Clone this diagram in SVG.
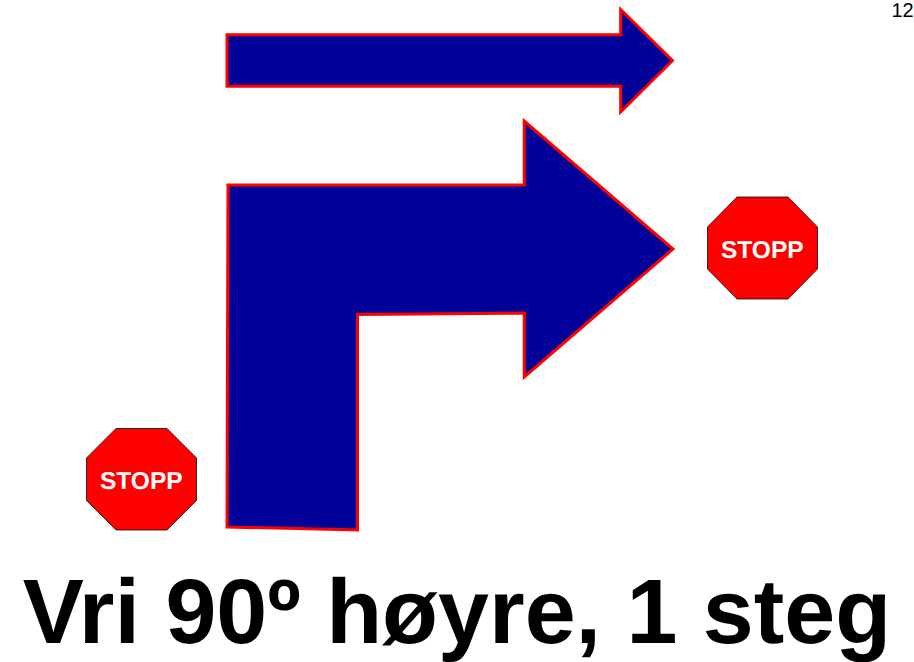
<svg xmlns="http://www.w3.org/2000/svg" width="914" height="662" viewBox="0 0 914 662">
<style>
text{font-family:"Liberation Sans",Arial,sans-serif;text-rendering:geometricPrecision}
.arrow{fill:#000099;stroke:#ff0000;stroke-width:3;stroke-linejoin:miter}
.oct{fill:#ff0000;stroke:#000000;stroke-width:.75}
.stopp{fill:#ffffff;font-weight:bold;font-size:24.500px;text-anchor:middle}
</style>
<rect width="914" height="662" fill="#ffffff"/>
<g id="page-number"><text x="891.500" y="16.500" font-size="20">12</text></g>
<g id="straight-arrow"><polygon class="arrow" points="227,34.700 620.700,34.700 620.700,9.500 672.500,60.500 620.700,112 620.700,86.300 227,86.300"/></g>
<g id="bent-arrow"><polygon class="arrow" points="228,185 524.300,185 524.300,121 673,249 524.300,377 524.300,313 357.500,314.500 357.500,530 227,527"/></g>
<g id="stop-right"><polygon class="oct" points="737,197 788,197 817.500,227 817.500,269 788,299 737,299 707.500,269 707.500,227"/><text class="stopp" x="762.300" y="258">STOPP</text></g>
<g id="stop-left"><polygon class="oct" points="116,428.500 167,428.500 196.500,458 196.500,500.500 167,530 116,530 86.500,500.500 86.500,458"/><text class="stopp" x="141.300" y="489">STOPP</text></g>
<g id="title"><text x="457" y="643" font-size="91.600" font-weight="bold" text-anchor="middle">Vri 90º høyre, 1 steg</text></g>
</svg>
